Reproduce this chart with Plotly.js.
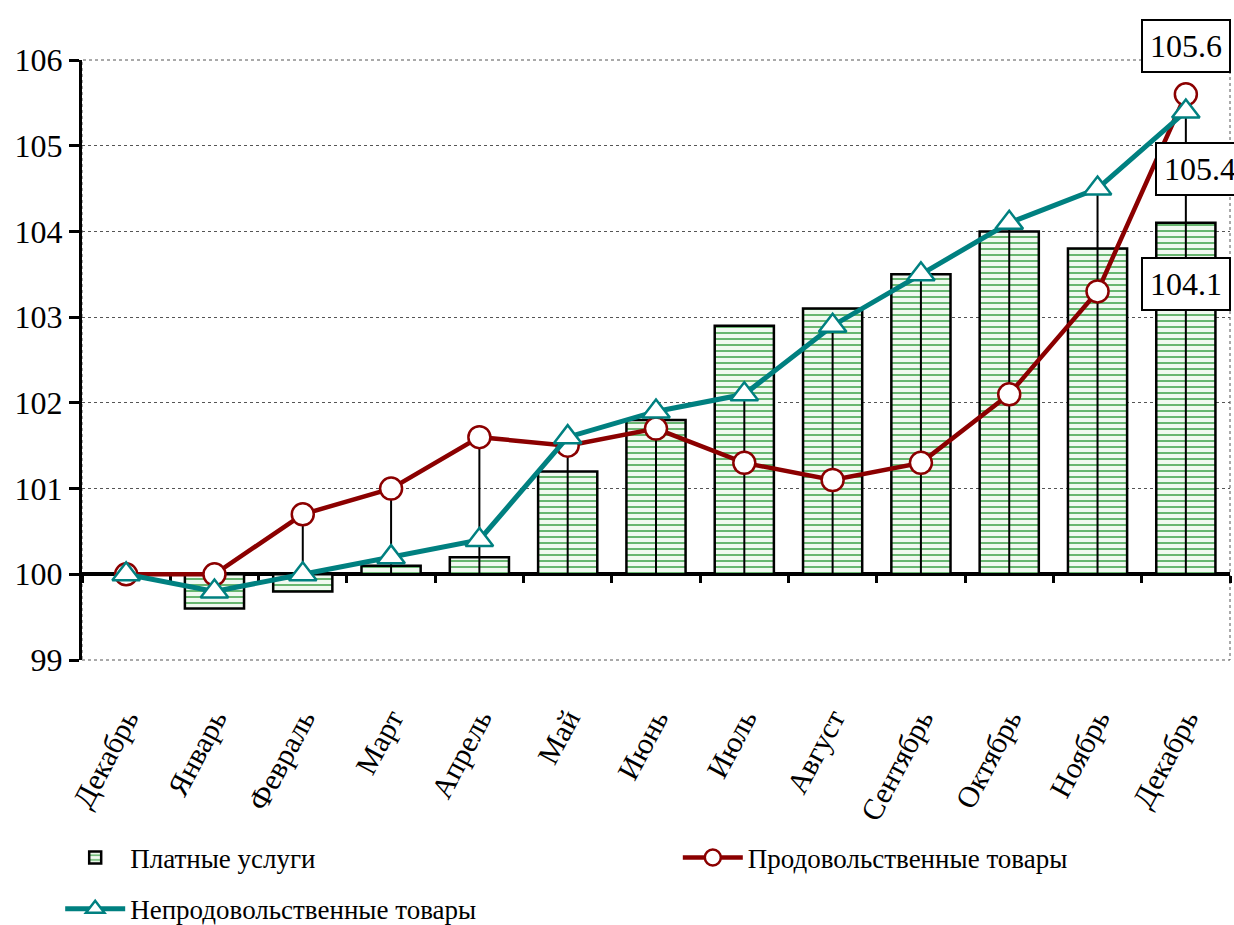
<!DOCTYPE html>
<html>
<head>
<meta charset="utf-8">
<script src="https://cdn.plot.ly/plotly-3.0.1.min.js"></script>
<style>
  html, body { margin: 0; padding: 0; background: #ffffff; }
  #chart { width: 1234px; height: 925px; }
</style>
</head>
<body>
<div id="chart"></div>
<script>
// ---- data ----
const months = ['Декабрь', 'Январь', 'Февраль', 'Март', 'Апрель', 'Май', 'Июнь',
                'Июль', 'Август', 'Сентябрь', 'Октябрь', 'Ноябрь', 'Декабрь'];
const services = [100.0, 99.6, 99.8, 100.1, 100.2, 101.2, 101.8, 102.9, 103.1, 103.5, 104.0, 103.8, 104.1];
const food     = [100.0, 100.0, 100.7, 101.0, 101.6, 101.5, 101.7, 101.3, 101.1, 101.3, 102.1, 103.3, 105.6];
const nonfood  = [100.0, 99.8, 100.0, 100.2, 100.4, 101.6, 101.9, 102.1, 102.9, 103.5, 104.1, 104.5, 105.4];
const baseLevel = 100;
const seriesNames = ['Платные услуги', 'Продовольственные товары', 'Непродовольственные товары'];
const yTicks = [99, 100, 101, 102, 103, 104, 105, 106];

// ---- derived ----
const idx = months.map((_, i) => i);
const boundaries = months.map((_, i) => i - 0.5).concat([months.length - 0.5]);
const dropX = [], dropY = [];
idx.forEach(i => {
  dropX.push(i, i, null);
  dropY.push(baseLevel, Math.max(food[i], nonfood[i]), null);
});

const FONT = 'Liberation Serif';
const RED = '#8B0000';
const TEAL = '#008080';

const traces = [
  {
    type: 'bar', name: seriesNames[0], x: idx,
    y: services.map(v => v - baseLevel), base: baseLevel,
    width: 0.67,
    marker: {
      color: '#ffffff',
      line: { color: '#000000', width: 2.5 },
      pattern: { shape: '-', fgcolor: '#3aa045', bgcolor: '#f0f9f0', size: 6, solidity: 0.25 }
    },
    legend: 'legend', hoverinfo: 'skip'
  },
  {
    type: 'scatter', mode: 'lines', x: dropX, y: dropY,
    line: { color: '#000000', width: 2 }, showlegend: false, hoverinfo: 'skip'
  },
  {
    type: 'scatter', mode: 'lines+markers', name: seriesNames[1], x: idx, y: food,
    line: { color: RED, width: 4.5 },
    marker: { symbol: 'circle', size: 22, color: '#ffffff', line: { color: RED, width: 2.5 } },
    legend: 'legend3'
  },
  {
    type: 'scatter', mode: 'lines+markers', name: seriesNames[2], x: idx, y: nonfood,
    line: { color: TEAL, width: 5 },
    marker: { symbol: 'triangle-up', size: 24, color: '#ffffff', line: { color: TEAL, width: 2.5 } },
    legend: 'legend2'
  },
  {
    type: 'scatter', mode: 'lines', x: [idx[0]], y: [baseLevel], xaxis: 'x2',
    line: { color: 'rgba(0,0,0,0)' }, showlegend: false, hoverinfo: 'skip'
  }
];

const n = months.length;
const last = n - 1;
const annFont = { family: FONT, size: 32, color: '#000000' };
const legFont = { family: FONT, size: 27, color: '#000000' };
const layout = {
  width: 1234, height: 925,
  margin: { l: 82, r: 4, t: 60, b: 265 },
  paper_bgcolor: '#ffffff', plot_bgcolor: '#ffffff',
  font: { family: FONT, color: '#000000', size: 28 },
  barmode: 'overlay',
  showlegend: true,
  xaxis: {
    range: [-0.5, n - 0.5], tickmode: 'array', tickvals: idx, ticktext: months,
    tickangle: -62, showgrid: false, zeroline: false, showline: false, ticks: '',
    tickfont: { family: FONT, size: 30, color: '#000000' },
    ticklabelstandoff: 34, fixedrange: true
  },
  xaxis2: {
    overlaying: 'x', anchor: 'free',
    position: (baseLevel - yTicks[0]) / (yTicks[yTicks.length - 1] - yTicks[0]),
    range: [-0.5, n - 0.5], tickmode: 'array', tickvals: boundaries,
    showticklabels: false, ticks: 'outside', ticklen: 7, tickwidth: 3, tickcolor: '#000000',
    showline: true, linewidth: 4, linecolor: '#000000',
    showgrid: false, zeroline: false, layer: 'below traces'
  },
  yaxis: {
    range: [yTicks[0], yTicks[yTicks.length - 1]], tickmode: 'array', tickvals: yTicks,
    showline: true, linewidth: 3, linecolor: '#000000',
    ticks: 'outside', ticklen: 10, tickwidth: 3, tickcolor: '#000000',
    showgrid: true, gridcolor: '#555555', griddash: 'dot', gridwidth: 1,
    zeroline: false, tickfont: { family: FONT, size: 32, color: '#000000' }, fixedrange: true
  },
  shapes: [
    { type: 'rect', xref: 'paper', yref: 'paper', x0: 0, x1: 1, y0: 0, y1: 1,
      line: { color: '#555555', width: 1, dash: 'dot' }, layer: 'below' }
  ],
  annotations: [
    { x: idx[last], y: food[last], xref: 'x', yref: 'y', text: food[last].toFixed(1),
      showarrow: false, yshift: 48, xshift: 0, font: annFont,
      bgcolor: '#ffffff', bordercolor: '#000000', borderwidth: 2, borderpad: 7 },
    { x: idx[last], y: nonfood[last], xref: 'x', yref: 'y', text: nonfood[last].toFixed(1),
      showarrow: false, yshift: -58, xshift: 14, font: annFont,
      bgcolor: '#ffffff', bordercolor: '#000000', borderwidth: 2, borderpad: 7 },
    { x: idx[last], y: services[last], xref: 'x', yref: 'y', text: services[last].toFixed(1),
      showarrow: false, yshift: -61, xshift: 0, font: annFont,
      bgcolor: '#ffffff', bordercolor: '#000000', borderwidth: 2, borderpad: 7 }
  ],
  legend: {
    orientation: 'h', x: -0.019, xanchor: 'left', y: -0.33, yanchor: 'middle', itemwidth: 60,
    font: legFont, bgcolor: 'rgba(0,0,0,0)'
  },
  legend3: {
    orientation: 'h', x: 0.519, xanchor: 'left', y: -0.33, yanchor: 'middle', itemwidth: 60,
    font: legFont, bgcolor: 'rgba(0,0,0,0)'
  },
  legend2: {
    orientation: 'h', x: -0.019, xanchor: 'left',
    yref: 'container', y: 0.017, yanchor: 'middle', itemwidth: 60,
    font: legFont, bgcolor: 'rgba(0,0,0,0)'
  }
};

Plotly.newPlot('chart', traces, layout, { staticPlot: true, displayModeBar: false });
</script>
</body>
</html>
